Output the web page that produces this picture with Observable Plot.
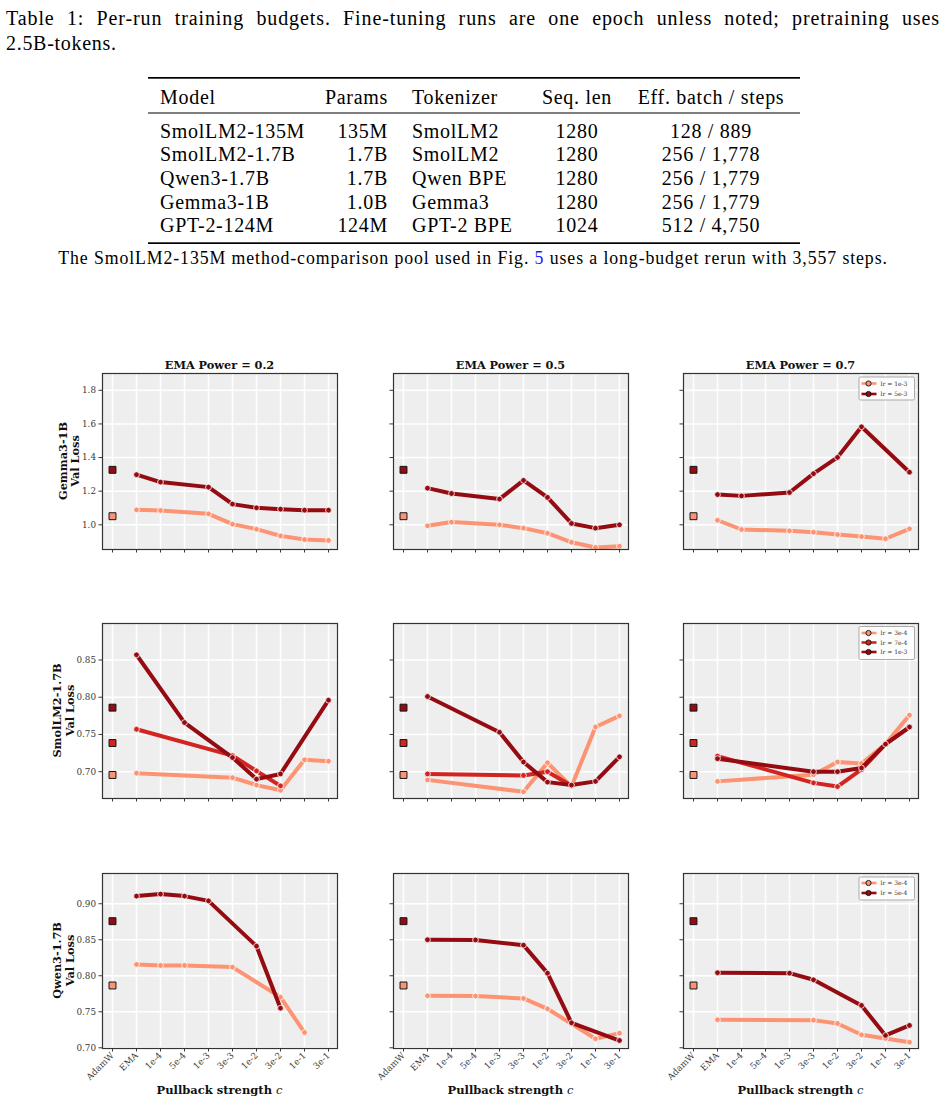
<!DOCTYPE html>
<html><head><meta charset="utf-8">
<script src="https://cdn.jsdelivr.net/npm/d3@7"></script>
<script src="https://cdn.jsdelivr.net/npm/@observablehq/plot@0.6"></script>
<style>
body{margin:0;background:#fff;}
#page{position:relative;width:947px;height:1105px;overflow:hidden;background:#fff;}
#cap1{position:absolute;left:6px;top:8px;width:934px;font-family:"Liberation Serif",serif;font-size:20px;letter-spacing:0.9px;line-height:20px;text-align:justify;text-align-last:justify;color:#000;}
</style></head><body><div id="page"><div id="cap1">Table 1: Per-run training budgets. Fine-tuning runs are one epoch unless noted; pretraining uses</div></div>
<script>
// ---------- table data ----------
const tableHeader = ["Model", "Params", "Tokenizer", "Seq. len", "Eff. batch / steps"];
const tableRows = [
  ["SmolLM2-135M", "135M", "SmolLM2", "1280", "128 / 889"],
  ["SmolLM2-1.7B", "1.7B", "SmolLM2", "1280", "256 / 1,778"],
  ["Qwen3-1.7B", "1.7B", "Qwen BPE", "1280", "256 / 1,779"],
  ["Gemma3-1B", "1.0B", "Gemma3", "1280", "256 / 1,779"],
  ["GPT-2-124M", "124M", "GPT-2 BPE", "1024", "512 / 4,750"]
];

// ---------- chart data ----------
const cats = ["AdamW", "EMA", "1e-4", "5e-4", "1e-3", "3e-3", "1e-2", "3e-2", "1e-1", "3e-1"];
const steps = ["EMA", "1e-4", "5e-4", "1e-3", "3e-3", "1e-2", "3e-2", "1e-1", "3e-1"];
const powers = ["0.2", "0.5", "0.7"];
const models = ["Gemma3-1B", "SmolLM2-1.7B", "Qwen3-1.7B"];

const gemmaLRs = ["1e-3", "5e-3"];
const gemmaAdamW = [1.051, 1.327];
const gemma_p02_1e3 = [1.089, 1.085, null, 1.065, 1.004, 0.974, 0.934, 0.912, 0.907];
const gemma_p02_5e3 = [1.298, 1.254, null, 1.224, 1.123, 1.101, 1.093, 1.087, 1.087];
const gemma_p05_1e3 = [0.994, 1.016, null, 1.000, 0.980, 0.950, 0.896, 0.865, 0.873];
const gemma_p05_5e3 = [1.218, 1.186, null, 1.153, 1.264, 1.163, 1.008, 0.980, 1.000];
const gemma_p07_1e3 = [1.027, 0.972, null, 0.964, 0.956, 0.942, 0.930, 0.917, 0.976];
const gemma_p07_5e3 = [1.180, 1.172, null, 1.192, 1.304, 1.401, 1.583, null, 1.313];

const smolLRs = ["3e-4", "7e-4", "1e-3"];
const smolAdamW = [0.6956, 0.7385, 0.786];
const smol_p02_3e4 = [0.698, null, null, null, 0.692, 0.682, 0.675, 0.716, 0.714];
const smol_p02_7e4 = [0.757, null, null, null, 0.7215, 0.701, 0.681, null, null];
const smol_p02_1e3 = [0.857, null, 0.766, null, 0.719, 0.690, 0.697, null, 0.796];
const smol_p05_3e4 = [0.689, null, null, null, 0.673, 0.712, 0.680, 0.760, 0.775];
const smol_p05_7e4 = [0.697, null, null, null, 0.695, 0.700, 0.681, null, null];
const smol_p05_1e3 = [0.801, null, null, 0.753, 0.713, 0.686, 0.682, 0.687, 0.720];
const smol_p07_3e4 = [0.687, null, null, null, 0.696, 0.713, 0.711, 0.737, 0.776];
const smol_p07_7e4 = [0.721, null, null, null, 0.685, 0.680, 0.703, 0.737, 0.760];
const smol_p07_1e3 = [0.7175, null, null, null, 0.700, 0.700, 0.705, 0.737, 0.760];

const qwenLRs = ["3e-4", "5e-4"];
const qwenAdamW = [0.7865, 0.8758];
const qwen_p02_3e4 = [0.8157, 0.8143, 0.8143, null, 0.812, null, 0.7703, 0.7212, null];
const qwen_p02_5e4 = [0.9106, 0.9134, 0.9106, 0.904, null, 0.8411, 0.755, null, null];
const qwen_p05_3e4 = [0.7722, null, 0.7718, null, 0.7685, 0.7541, 0.7333, 0.7125, 0.7203];
const qwen_p05_5e4 = [0.850, null, 0.8497, null, 0.8425, 0.8036, 0.7347, null, 0.7101];
const qwen_p07_3e4 = [0.7389, null, null, null, 0.7384, 0.7338, 0.718, 0.713, 0.7078];
const qwen_p07_5e4 = [0.8042, null, null, 0.8036, 0.7944, null, 0.7588, 0.7171, 0.731];

const lightC = "#fc9474", midC = "#d22420", darkC = "#950b12";

const rows = [
  {model: models[0], lrs: gemmaLRs, colors: [lightC, darkC], adamW: gemmaAdamW,
   series: [[gemma_p02_1e3, gemma_p02_5e3], [gemma_p05_1e3, gemma_p05_5e3], [gemma_p07_1e3, gemma_p07_5e3]],
   domain: [0.853, 1.90], ticks: [1.0, 1.2, 1.4, 1.6, 1.8], fmt: d3.format(".1f"),
   top: 373, h: 176, lab: [66.5, 79], leg: {top: 377, ys: [383.5, 394]}},
  {model: models[1], lrs: smolLRs, colors: [lightC, midC, darkC], adamW: smolAdamW,
   series: [[smol_p02_3e4, smol_p02_7e4, smol_p02_1e3], [smol_p05_3e4, smol_p05_7e4, smol_p05_1e3], [smol_p07_3e4, smol_p07_7e4, smol_p07_1e3]],
   domain: [0.664, 0.899], ticks: [0.70, 0.75, 0.80, 0.85], fmt: d3.format(".2f"),
   top: 623, h: 175, lab: [61, 73.5], leg: {top: 626.5, ys: [633, 642.5, 652]}},
  {model: models[2], lrs: qwenLRs, colors: [lightC, darkC], adamW: qwenAdamW,
   series: [[qwen_p02_3e4, qwen_p02_5e4], [qwen_p05_3e4, qwen_p05_5e4], [qwen_p07_3e4, qwen_p07_5e4]],
   domain: [0.699, 0.942], ticks: [0.70, 0.75, 0.80, 0.85, 0.90], fmt: d3.format(".2f"),
   top: 873, h: 175, lab: [61, 73.5], leg: {top: 877, ys: [883, 893]}}
];
const colLeft = [102, 393, 683];
const panelW = 235;

const page = document.getElementById("page");

function panel(r, c) {
  const R = rows[r];
  const ml = 40, mr = 4, mt = 4, mb = r === 2 ? 50 : 8;
  const marks = [
    Plot.frame({fill: "#eeeeee", stroke: null}),
    Plot.ruleX(cats, {stroke: "#ffffff", strokeWidth: 1.5}),
    Plot.ruleY(R.ticks, {stroke: "#ffffff", strokeWidth: 1.5})
  ];
  R.lrs.forEach((lr, i) => {
    const d = [];
    R.series[c][i].forEach((v, j) => { if (v != null) d.push({c: steps[j], v, lr}); });
    marks.push(Plot.line(d, {x: "c", y: "v", stroke: "lr", strokeWidth: 4, strokeLinejoin: "round", strokeLinecap: "butt"}));
    marks.push(Plot.dot(d, {x: "c", y: "v", fill: "lr", stroke: "#ffffff", strokeWidth: 0.8, r: 2.9}));
  });
  const adam = R.lrs.map((lr, i) => ({c: "AdamW", v: R.adamW[i], lr}));
  marks.push(Plot.dot(adam, {x: "c", y: "v", fill: "lr", stroke: "#151515", strokeWidth: 1, symbol: "square", r: 3.9}));
  marks.push(Plot.frame({stroke: "#333333", strokeWidth: 1.2}));
  const svg = Plot.plot({
    width: panelW + ml + mr, height: R.h + mt + mb,
    marginLeft: ml, marginRight: mr, marginTop: mt, marginBottom: mb,
    style: {fontFamily: "DejaVu Serif", fontSize: "8.8px", color: "#3a3a3a", background: "transparent", overflow: "visible"},
    x: {type: "point", domain: cats, padding: 0.3, label: null, tickSize: 3.5, tickPadding: 2,
        tickRotate: r === 2 ? -45 : 0, tickFormat: r === 2 ? (d => d) : (() => "")},
    y: {domain: R.domain, ticks: R.ticks, label: null, tickSize: 3.5, tickPadding: 3,
        tickFormat: c === 0 ? R.fmt : (() => "")},
    color: {domain: R.lrs, range: R.colors},
    marks
  });
  svg.style.position = "absolute";
  svg.style.left = (colLeft[c] - ml) + "px";
  svg.style.top = (R.top - mt) + "px";
  page.appendChild(svg);
}
for (let r = 0; r < 3; r++) for (let c = 0; c < 3; c++) panel(r, c);

// ---------- overlay text ----------
const NS = "http://www.w3.org/2000/svg";
const ov = document.createElementNS(NS, "svg");
ov.setAttribute("width", 947); ov.setAttribute("height", 1105);
ov.style.position = "absolute"; ov.style.left = "0"; ov.style.top = "0"; ov.style.pointerEvents = "none";
page.appendChild(ov);
function el(tag, attrs, parent) {
  const e = document.createElementNS(NS, tag);
  for (const k in attrs) e.setAttribute(k, attrs[k]);
  (parent || ov).appendChild(e);
  return e;
}
function txt(x, y, s, attrs) {
  const t = el("text", Object.assign({x, y}, attrs || {}));
  t.textContent = s;
  return t;
}
const LM = {"font-family": "Liberation Serif, serif", "font-size": "20px", "letter-spacing": "0.7px", fill: "#000"};

// caption line 2
txt(6, 50, "2.5B-tokens.", LM);
// table rules
el("rect", {x: 148, y: 77, width: 652, height: 1.7, fill: "#000"});
el("rect", {x: 148, y: 112.5, width: 652, height: 1, fill: "#000"});
el("rect", {x: 148, y: 242.3, width: 652, height: 1.7, fill: "#000"});
const colX = [160, 388, 412, 577, 711];
const colAnchor = ["start", "end", "start", "middle", "middle"];
tableHeader.forEach((h, i) => txt(colX[i], 104, h, Object.assign({"text-anchor": colAnchor[i]}, LM)));
const rowBase = [138, 161, 185, 209, 232];
tableRows.forEach((row, k) => row.forEach((v, i) => txt(colX[i], rowBase[k], v, Object.assign({"text-anchor": colAnchor[i]}, LM))));
// footnote
const fn = txt(473, 264, "", {"text-anchor": "middle", "font-family": "Liberation Serif, serif", "font-size": "17.8px", "letter-spacing": "0.9px", fill: "#000"});
const ts1 = el("tspan", {}, fn); ts1.textContent = "The SmolLM2-135M method-comparison pool used in Fig. ";
const ts2 = el("tspan", {fill: "#1a1aff"}, fn); ts2.textContent = "5";
const ts3 = el("tspan", {}, fn); ts3.textContent = " uses a long-budget rerun with 3,557 steps.";

// column titles
const DJ = {"font-family": "DejaVu Serif", fill: "#111"};
powers.forEach((p, c) => txt(colLeft[c] + panelW / 2, 368.5, "EMA Power = " + p,
  Object.assign({"text-anchor": "middle", "font-size": "11.3px", "font-weight": "bold"}, DJ)));
// row labels
rows.forEach(R => {
  const cy = R.top + R.h / 2;
  [R.model, "Val Loss"].forEach((s, i) => {
    txt(0, 0, s, Object.assign({"text-anchor": "middle", "font-size": "11.3px", "font-weight": "bold",
      transform: `translate(${R.lab[i]},${cy}) rotate(-90)`}, DJ));
  });
});
// x labels
colLeft.forEach(x0 => {
  const t = txt(x0 + panelW / 2, 1094, "", Object.assign({"text-anchor": "middle", "font-size": "11.5px", "font-weight": "bold"}, DJ));
  const a = el("tspan", {}, t); a.textContent = "Pullback strength ";
  const b = el("tspan", {"font-style": "italic", "font-weight": "normal"}, t); b.textContent = "c";
});
// legends
rows.forEach(R => {
  const lx = 859, lw = 55.5;
  const h = R.lrs.length * 10 + 3;
  el("rect", {x: lx, y: R.leg.top, width: lw, height: h, rx: 1.5, fill: "#ffffff", "fill-opacity": 0.8, stroke: "#aaaaaa", "stroke-width": 1});
  R.lrs.forEach((lr, i) => {
    const y = R.leg.ys[i];
    el("line", {x1: 861.5, x2: 876.5, y1: y, y2: y, stroke: R.colors[i], "stroke-width": 2.6});
    el("circle", {cx: 868.5, cy: y, r: 2.6, fill: R.colors[i], stroke: "#111", "stroke-width": 0.9});
    txt(880.5, y + 2.1, "lr = " + lr, Object.assign({"font-size": "6px"}, DJ, {fill: "#333"}));
  });
});
</script></body></html>
